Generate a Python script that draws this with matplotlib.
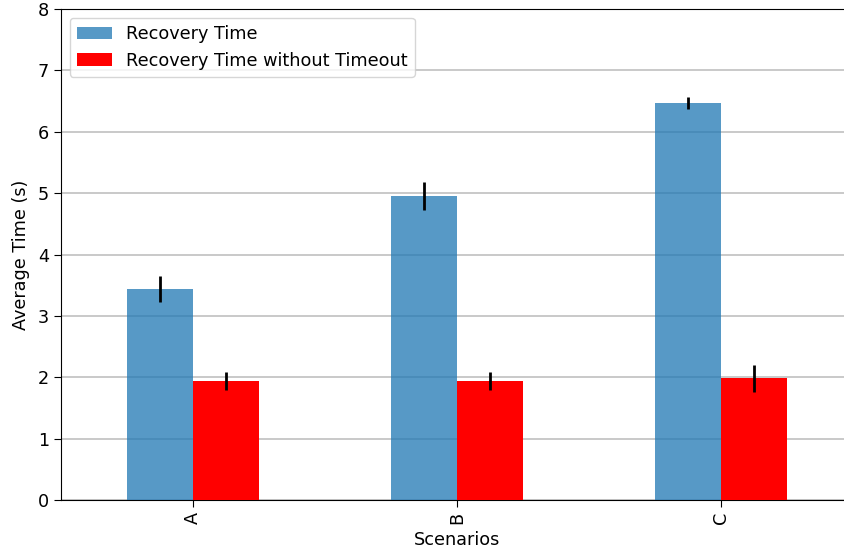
import matplotlib
matplotlib.use("Agg")
import matplotlib.pyplot as plt
import numpy as np

scenarios = ["A", "B", "C"]
recovery = [3.44, 4.95, 6.47]
recovery_err = [0.21, 0.23, 0.10]
recovery_no_timeout = [1.94, 1.94, 1.98]
recovery_no_timeout_err = [0.15, 0.14, 0.22]

plt.rcParams["font.size"] = 12.7

fig = plt.figure(figsize=(8.44, 5.54), dpi=100)
ax = fig.add_axes([61 / 844, 54 / 554, 792 / 844, 491 / 554])

x = np.arange(len(scenarios))
w = 0.25
ax.bar(x - w / 2, recovery, w, yerr=recovery_err, color="#1f77b4", alpha=0.75,
       label="Recovery Time", error_kw=dict(ecolor="black", elinewidth=2, capsize=0), zorder=3)
ax.bar(x + w / 2, recovery_no_timeout, w, yerr=recovery_no_timeout_err, color="red",
       label="Recovery Time without Timeout", error_kw=dict(ecolor="black", elinewidth=2, capsize=0), zorder=3)

ax.set_xticks(x)
ax.set_xticklabels(scenarios, rotation=90)
ax.set_xlim(-0.5, 2.5)
ax.set_ylim(0, 8)
ax.yaxis.grid(True, color="#c0c0c0", linewidth=1.2, zorder=0)
ax.set_axisbelow(True)
ax.tick_params(length=5)
ax.set_xlabel("Scenarios", labelpad=5)
ax.set_ylabel("Average Time (s)", labelpad=6)
ax.legend(loc="upper left")

fig.savefig("out.png", dpi=100)
